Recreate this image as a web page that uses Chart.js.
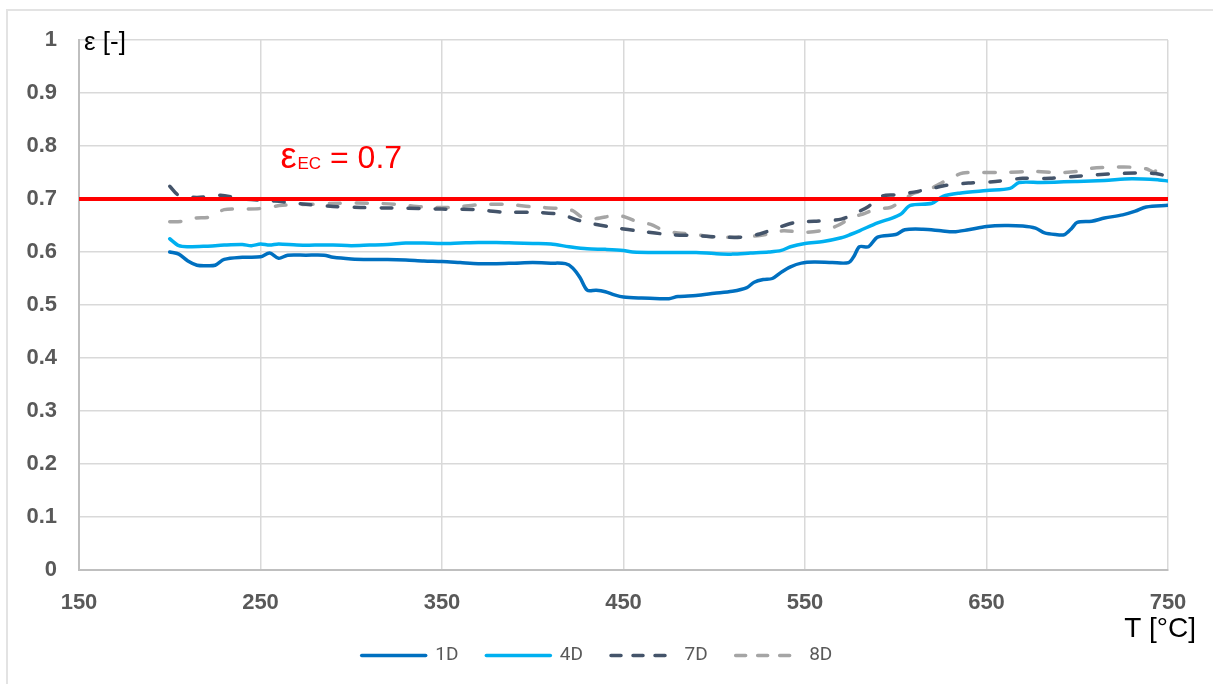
<!DOCTYPE html>
<html>
<head>
<meta charset="utf-8">
<script src="https://cdn.jsdelivr.net/npm/chart.js@4.4.1/dist/chart.umd.min.js"></script>
<style>
  html, body { margin: 0; padding: 0; background: #fff; overflow: hidden; }
  #wrap { position: relative; width: 1213px; height: 684px; }
  #frame { position: absolute; left: 6px; top: 9px; width: 1300px; height: 800px; border: 2px solid #e3e3e3; box-sizing: border-box; }
  canvas { position: absolute; left: 0; top: 0; }
</style>
</head>
<body>
<div id="wrap">
  <div id="frame"></div>
  <canvas id="epsChart" width="1213" height="684"></canvas>
</div>
<script>
// Emissivity vs temperature
const t1D = [200, 205, 210, 215, 220, 225, 230, 240, 250, 255, 260, 265, 275, 285, 290, 300, 310, 320, 330, 340, 350, 360, 370, 380, 390, 400, 410, 418, 422, 426, 430, 435, 440, 445, 450, 460, 470, 475, 480, 490, 500, 510, 518, 522, 527, 532, 537, 542, 548, 555, 565, 574, 577, 580, 585, 590, 600, 605, 615, 625, 632, 640, 650, 660, 670, 677, 682, 688, 693, 697, 700, 708, 715, 725, 732, 738, 750];
const e1D = [0.600, 0.596, 0.583, 0.575, 0.574, 0.575, 0.586, 0.590, 0.591, 0.598, 0.588, 0.594, 0.594, 0.594, 0.590, 0.587, 0.586, 0.586, 0.585, 0.583, 0.582, 0.580, 0.578, 0.578, 0.579, 0.580, 0.579, 0.578, 0.570, 0.552, 0.528, 0.528, 0.525, 0.519, 0.515, 0.513, 0.512, 0.512, 0.516, 0.518, 0.522, 0.526, 0.533, 0.543, 0.548, 0.550, 0.562, 0.572, 0.579, 0.581, 0.580, 0.580, 0.592, 0.610, 0.610, 0.628, 0.633, 0.642, 0.643, 0.640, 0.638, 0.642, 0.648, 0.650, 0.649, 0.645, 0.636, 0.633, 0.633, 0.645, 0.656, 0.658, 0.664, 0.670, 0.677, 0.685, 0.688];

const t4D = [200, 205, 210, 220, 230, 240, 245, 250, 255, 260, 270, 280, 290, 300, 310, 320, 330, 340, 350, 360, 370, 380, 390, 400, 410, 420, 430, 440, 450, 455, 470, 490, 500, 510, 520, 530, 537, 542, 550, 560, 570, 575, 580, 590, 598, 603, 608, 620, 626, 635, 650, 663, 668, 680, 700, 715, 730, 745, 750];
const e4D = [0.625, 0.612, 0.610, 0.611, 0.613, 0.614, 0.612, 0.615, 0.613, 0.615, 0.613, 0.613, 0.613, 0.612, 0.613, 0.614, 0.617, 0.617, 0.616, 0.617, 0.618, 0.618, 0.617, 0.616, 0.615, 0.610, 0.606, 0.605, 0.603, 0.600, 0.599, 0.599, 0.597, 0.596, 0.598, 0.600, 0.603, 0.610, 0.616, 0.620, 0.627, 0.633, 0.640, 0.655, 0.664, 0.672, 0.688, 0.692, 0.705, 0.711, 0.716, 0.720, 0.731, 0.731, 0.733, 0.735, 0.738, 0.736, 0.734];

const t7D = [200, 205, 215, 228, 240, 258, 275, 290, 305, 320, 338, 350, 368, 385, 400, 415, 425, 432, 445, 460, 475, 490, 505, 515, 525, 535, 545, 555, 570, 577, 585, 592, 600, 610, 620, 628, 640, 655, 670, 685, 700, 717, 732, 743, 750];
const e7D = [0.724, 0.707, 0.703, 0.707, 0.700, 0.696, 0.690, 0.686, 0.684, 0.683, 0.682, 0.681, 0.680, 0.675, 0.675, 0.671, 0.660, 0.654, 0.646, 0.639, 0.633, 0.631, 0.628, 0.628, 0.634, 0.646, 0.656, 0.658, 0.662, 0.672, 0.686, 0.705, 0.708, 0.713, 0.720, 0.726, 0.730, 0.733, 0.739, 0.739, 0.743, 0.747, 0.749, 0.748, 0.743];

const t8D = [200, 207, 214, 222, 230, 240, 250, 262, 278, 294, 310, 325, 340, 355, 370, 385, 400, 415, 422, 428, 435, 445, 450, 457, 465, 472, 480, 490, 500, 512, 522, 530, 538, 550, 562, 568, 576, 583, 590, 597, 604, 610, 617, 624, 631, 637, 645, 660, 675, 690, 700, 708, 720, 730, 738, 742, 745, 750];
const e8D = [0.657, 0.658, 0.664, 0.666, 0.680, 0.681, 0.682, 0.688, 0.690, 0.692, 0.692, 0.690, 0.685, 0.684, 0.689, 0.690, 0.685, 0.682, 0.678, 0.664, 0.663, 0.669, 0.667, 0.658, 0.652, 0.641, 0.636, 0.633, 0.628, 0.628, 0.630, 0.634, 0.640, 0.637, 0.642, 0.650, 0.665, 0.673, 0.682, 0.684, 0.698, 0.711, 0.716, 0.728, 0.741, 0.749, 0.750, 0.750, 0.752, 0.750, 0.752, 0.758, 0.760, 0.760, 0.757, 0.751, 0.756, 0.750];

// EC limit line
const limitT = [150, 750];
const limitE = [0.7, 0.7];

const xTicks = [150, 250, 350, 450, 550, 650, 750];
const yTicks = [0, 0.1, 0.2, 0.3, 0.4, 0.5, 0.6, 0.7, 0.8, 0.9, 1];

function toPoints(xs, ys) {
    return xs.map((x, i) => ({ x: x, y: ys[i] }));
}

const tickFont = { family: '"Liberation Sans", Arial, sans-serif', size: 22, weight: 'bold' };

// axis titles and the EC annotation as plain canvas text
const textPlugin = {
    id: 'chartTexts',
    afterDraw(chart) {
        const ctx = chart.ctx;
        const xs = chart.scales.x;
        const ys = chart.scales.y;
        ctx.save();
        ctx.textBaseline = 'alphabetic';
        ctx.fillStyle = '#000';
        ctx.font = '26px "Liberation Sans", Arial, sans-serif';
        ctx.textAlign = 'left';
        ctx.fillText('ε [-]', 84, 50);
        ctx.textAlign = 'right';
        ctx.font = '28px "Liberation Sans", Arial, sans-serif';
        ctx.fillText('T [°C]', 1196, 637);

        // εEC = 0.7
        ctx.textAlign = 'left';
        ctx.fillStyle = '#ff0000';
        let x = xs.getPixelForValue(261);
        const base = ys.getPixelForValue(0.758);
        ctx.font = '36px "Liberation Sans", Arial, sans-serif';
        ctx.fillText('ε', x, base);
        x += ctx.measureText('ε').width + 1;
        ctx.font = '17px "Liberation Sans", Arial, sans-serif';
        ctx.fillText('EC', x, base + 1);
        x += ctx.measureText('EC').width;
        ctx.font = '32px "Liberation Sans", Arial, sans-serif';
        ctx.fillText(' = 0.7', x, base);
        ctx.restore();
    }
};

const lineStyle = {
    borderWidth: 3.5,
    pointRadius: 0,
    tension: 0.3,
    fill: false,
    borderCapStyle: 'round',
    borderJoinStyle: 'round'
};

const ctx = document.getElementById('epsChart').getContext('2d');
const chart = new Chart(ctx, {
    type: 'line',
    data: {
        datasets: [
            {
                label: 'limit',
                data: toPoints(limitT, limitE),
                borderColor: '#ff0000',
                backgroundColor: '#ff0000',
                borderWidth: 4,
                pointRadius: 0,
                borderCapStyle: 'butt'
            },
            Object.assign({ label: '1D', data: toPoints(t1D, e1D), borderColor: '#0070c0', backgroundColor: '#0070c0' }, lineStyle),
            Object.assign({ label: '4D', data: toPoints(t4D, e4D), borderColor: '#00b0f0', backgroundColor: '#00b0f0' }, lineStyle),
            Object.assign({ label: '7D', data: toPoints(t7D, e7D), borderColor: '#44546a', backgroundColor: '#44546a', borderDash: [11, 16] }, lineStyle),
            Object.assign({ label: '8D', data: toPoints(t8D, e8D), borderColor: '#a5a5a5', backgroundColor: '#a5a5a5', borderDash: [11, 16] }, lineStyle)
        ]
    },
    options: {
        responsive: false,
        animation: false,
        devicePixelRatio: 1,
        layout: {
            padding: { left: 26, right: 45, top: 40, bottom: 9 }
        },
        plugins: {
            tooltip: { enabled: false },
            legend: {
                position: 'bottom',
                labels: {
                    generateLabels: chart => Chart.defaults.plugins.legend.labels.generateLabels(chart)
                        .filter(item => item.text !== 'limit')
                        .map(item => Object.assign(item, {
                            lineDash: chart.data.datasets[item.datasetIndex].borderDash ? [10, 12] : [],
                            lineWidth: 3.5,
                            lineCap: 'round'
                        })),
                    usePointStyle: true,
                    pointStyle: 'line',
                    pointStyleWidth: 64,
                    padding: 28,
                    color: '#595959',
                    font: { family: '"Liberation Sans Narrow", "Roboto", sans-serif', size: 19 }
                }
            }
        },
        scales: {
            x: {
                type: 'linear',
                min: 150,
                max: 750,
                afterBuildTicks: scale => { scale.ticks = xTicks.map(v => ({ value: v })); },
                afterFit: scale => { scale.height = 48; },
                ticks: {
                    color: '#595959',
                    font: tickFont,
                    padding: 20,
                    maxRotation: 0
                },
                grid: { color: '#d9d9d9', lineWidth: 1.5, drawTicks: false },
                border: { color: '#bfbfbf', width: 2 }
            },
            y: {
                min: 0,
                max: 1,
                afterBuildTicks: scale => { scale.ticks = yTicks.map(v => ({ value: v })); },
                afterFit: scale => { scale.width = 53; },
                ticks: {
                    color: '#595959',
                    font: tickFont,
                    padding: 22,
                    callback: v => String(Number(v.toFixed(1)))
                },
                grid: { color: '#d9d9d9', lineWidth: 1.5, drawTicks: false },
                border: { color: '#bfbfbf', width: 2 }
            }
        }
    },
    plugins: [textPlugin]
});
</script>
</body>
</html>
